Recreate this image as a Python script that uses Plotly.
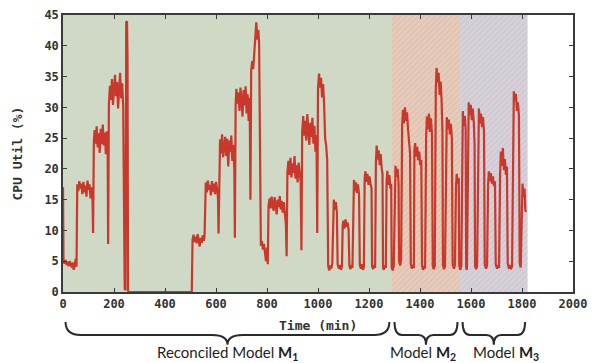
import plotly.graph_objects as go

# ---------------- data ----------------
time_min = [
    0, 2, 6, 10, 14, 18, 22, 26, 30, 34, 38, 42, 46, 50, 53,
    56, 60, 64, 68, 72, 76, 80, 84, 88, 92, 96, 100, 104, 108, 112, 116, 118,
    121, 124, 128, 132, 136, 140, 144, 148, 152, 156, 160, 164, 168, 172, 175, 177,
    180, 184, 188, 192, 196, 200, 204, 208, 212, 216, 220, 224, 228, 232, 236, 239,
    242, 245, 248, 251, 253, 255, 258, 300, 350, 400, 450, 500, 505,
    508, 512, 516, 520, 524, 528, 532, 536, 540, 544, 548, 552, 555,
    557, 560, 564, 568, 572, 576, 580, 584, 588, 592, 596, 600, 604, 608, 610,
    613, 616, 620, 624, 628, 632, 636, 640, 644, 648, 652, 656, 660, 664, 668, 672, 674,
    677, 680, 684, 688, 692, 696, 700, 704, 708, 712, 716, 720, 724, 728, 732, 735,
    738, 742, 746, 750, 754, 758, 762, 766, 769, 771, 773,
    776, 780, 784, 788, 792, 796, 800, 803,
    806, 810, 814, 818, 822, 826, 830, 834, 838, 842, 846, 850, 854, 858, 862, 866, 870, 874, 877,
    880, 884, 888, 892, 896, 900, 904, 908, 912, 916, 920, 924, 928, 932, 935,
    938, 942, 946, 950, 954, 958, 962, 966, 970, 974, 978, 982, 986, 990, 994, 997,
    1000, 1004, 1008, 1012, 1016, 1020, 1024, 1028, 1032, 1036, 1040,
    1044, 1048, 1052, 1056, 1059, 1062, 1066, 1070, 1074, 1077,
    1082, 1086, 1090, 1094, 1097, 1100, 1104, 1108, 1112, 1116, 1120, 1123,
    1127, 1131, 1135, 1138, 1141, 1145, 1149, 1153, 1157, 1161, 1164,
    1168, 1172, 1176, 1180, 1183, 1186, 1190, 1194, 1198, 1202, 1206, 1210, 1212,
    1216, 1220, 1224, 1227, 1230, 1234, 1238, 1242, 1246, 1250, 1253, 1255,
    1258, 1262, 1266, 1269, 1272, 1276, 1280, 1284, 1287, 1289,
    1293, 1297, 1301, 1304, 1308, 1312, 1316, 1318,
    1322, 1326, 1330, 1333, 1337, 1341, 1345, 1349, 1353, 1357, 1361, 1364,
    1368, 1372, 1376, 1378, 1381, 1385, 1389, 1393, 1397, 1401, 1405, 1408,
    1412, 1416, 1420, 1424, 1427, 1431, 1435, 1439, 1443, 1447, 1450,
    1454, 1458, 1462, 1465, 1469, 1473, 1477, 1481, 1485, 1488, 1490,
    1494, 1498, 1502, 1505, 1509, 1513, 1517, 1521, 1525, 1528,
    1533, 1537, 1541, 1544, 1548, 1552, 1554,
    1558, 1562, 1565, 1568, 1572, 1576, 1579, 1581,
    1584, 1588, 1591, 1595, 1599, 1603, 1607, 1611, 1614, 1616,
    1620, 1624, 1628, 1631, 1635, 1639, 1643, 1647, 1651, 1654,
    1659, 1663, 1667, 1670, 1674, 1678, 1682, 1686, 1690, 1694, 1697,
    1702, 1706, 1710, 1714, 1717, 1721, 1725, 1729, 1733, 1737, 1741, 1744,
    1749, 1753, 1757, 1761, 1765, 1768, 1772, 1776, 1780, 1784, 1788, 1791,
    1795, 1799, 1802, 1806, 1810, 1813, 1815,
]
cpu_util = [
    17.0, 5.0, 4.6, 5.2, 4.4, 4.9, 4.2, 5.0, 4.5, 4.0, 4.8, 3.6, 4.3, 5.4, 4.1,
    17.5, 16.4, 18.0, 16.8, 17.6, 15.9, 17.9, 16.2, 17.3, 15.5, 18.1, 16.6, 17.5, 15.2, 17.0, 14.5, 9.6,
    24.5, 26.3, 24.1, 26.9, 23.5, 25.8, 22.6, 26.5, 24.0, 27.2, 23.8, 25.9, 22.4, 26.1, 24.5, 7.8,
    30.5, 33.5, 31.2, 34.6, 30.4, 33.0, 35.3, 31.8, 34.1, 29.8, 33.6, 35.6, 31.5, 33.9, 30.2, 10.2,
    0.5, 0.3, 43.8, 44.0, 38.0, 0.2, 0.0, 0.0, 0.0, 0.0, 0.0, 0.0, 0.0,
    8.5, 9.3, 8.1, 9.0, 7.9, 9.4, 8.4, 7.4, 8.8, 8.0, 9.2, 8.3, 9.0,
    17.0, 17.8, 16.2, 18.1, 16.6, 17.4, 15.7, 18.0, 16.3, 17.6, 15.9, 17.9, 16.8, 15.2, 9.5,
    23.0, 24.8, 22.5, 25.6, 21.9, 24.3, 25.2, 22.1, 24.9, 20.4, 24.6, 22.8, 25.4, 21.3, 23.9, 19.5, 8.8,
    30.5, 33.0, 30.6, 32.4, 29.4, 33.2, 31.0, 28.5, 32.8, 30.3, 33.4, 29.0, 32.1, 27.8, 31.5, 15.0,
    36.0, 37.5, 36.2, 39.0, 41.5, 43.8, 41.0, 42.6, 40.5, 30.0, 8.0,
    7.5, 8.3, 6.9, 7.8, 6.5, 5.0, 7.2, 4.5,
    14.0, 15.2, 13.6, 15.5, 14.0, 13.2, 15.4, 14.3, 12.6, 15.0, 13.8, 15.6, 13.4, 14.8, 12.9, 14.6, 13.1, 11.0, 5.8,
    19.5, 21.3, 19.0, 21.8, 18.6, 20.9, 19.3, 22.1, 18.4, 20.6, 17.8, 21.0, 19.2, 18.0, 6.8,
    26.0, 28.6, 25.4, 27.8, 24.6, 28.9, 26.0, 23.9, 27.5, 25.2, 28.3, 24.1, 27.0, 22.8, 25.5, 9.6,
    33.0, 35.5, 33.2, 34.8, 31.6, 33.8, 30.5, 25.0, 23.8, 21.5, 4.2,
    3.5, 4.3, 3.8, 4.6, 14.0, 15.0, 13.4, 14.6, 13.0, 4.5,
    3.8, 4.4, 3.6, 4.2, 11.0, 11.6, 10.3, 11.8, 10.6, 11.3, 10.1, 4.3,
    3.7, 4.4, 3.9, 17.0, 18.2, 16.4, 17.8, 16.1, 17.5, 15.8, 4.4,
    3.8, 4.5, 3.6, 4.1, 18.5, 19.6, 17.9, 19.2, 17.4, 18.8, 17.6, 16.8, 4.2,
    3.7, 4.4, 3.9, 21.0, 23.8, 21.5, 23.0, 20.6, 22.4, 20.0, 19.2, 4.0,
    3.6, 4.3, 3.9, 18.0, 19.7, 17.4, 19.0, 16.8, 17.6, 4.0,
    3.5, 4.2, 18.0, 20.5, 18.7, 20.0, 17.5, 5.0,
    4.3, 5.2, 27.0, 29.6, 27.4, 30.0, 27.8, 29.2, 26.5, 24.0, 22.5, 4.5,
    3.8, 4.4, 3.9, 23.0, 24.2, 22.0, 23.6, 21.4, 22.8, 20.6, 21.5, 4.3,
    3.6, 4.2, 3.8, 25.0, 28.5, 26.4, 29.0, 26.0, 28.2, 25.6, 4.2,
    3.7, 4.3, 33.0, 36.4, 34.0, 35.6, 32.0, 34.2, 30.8, 26.0, 4.4,
    3.7, 4.2, 27.0, 28.4, 26.5, 28.0, 25.6, 27.3, 25.0, 4.5,
    3.8, 4.4, 17.0, 19.2, 17.6, 18.5, 4.3,
    3.6, 4.2, 27.0, 29.4, 27.0, 28.6, 26.5, 4.0,
    3.6, 28.0, 30.8, 28.7, 30.4, 27.9, 29.8, 27.5, 24.0, 4.2,
    3.7, 4.3, 27.0, 29.8, 27.4, 29.0, 26.8, 28.4, 26.0, 4.4,
    3.8, 4.3, 17.5, 19.6, 18.0, 19.3, 17.6, 18.8, 17.2, 18.0, 4.5,
    3.8, 4.4, 3.9, 19.0, 22.8, 20.5, 23.4, 19.8, 21.6, 19.0, 20.4, 4.6,
    3.8, 4.4, 3.7, 4.2, 30.0, 32.6, 31.0, 32.2, 29.4, 30.8, 28.6, 4.6,
    4.0, 14.0, 17.6, 15.4, 16.8, 13.5, 13.0,
]

region_start = [0, 1290, 1557]
region_end = [1290, 1557, 1822]
region_labels = ["Reconciled Model <b>M<sub>1</sub></b>",
                 "Model <b>M<sub>2</sub></b>",
                 "Model <b>M<sub>3</sub></b>"]
region_colors = ["#d0d8c6", "#e7ccbb", "#d7d1da"]
region_patterns = ["", "/", "/"]
region_pattern_fg = ["#d0d8c6", "#d6b39f", "#c4bcc8"]

x_ticks = [0, 200, 400, 600, 800, 1000, 1200, 1400, 1600, 1800, 2000]
y_ticks = [0, 5, 10, 15, 20, 25, 30, 35, 40, 45]

fig = go.Figure()

# shaded regions as bars spanning the full y range
for s, e, c, p, fg in zip(region_start, region_end, region_colors, region_patterns, region_pattern_fg):
    fig.add_trace(go.Bar(
        x=[(s + e) / 2], y=[45], width=[e - s], base=[0],
        marker=dict(color=c, line=dict(width=0),
                    pattern=dict(shape=p, fgcolor=fg, bgcolor=c, size=4, solidity=0.35)),
        showlegend=False, hoverinfo="skip"))

fig.add_trace(go.Scatter(
    x=time_min, y=cpu_util, mode="lines",
    line=dict(color="#c8392b", width=2.2),
    showlegend=False))

tick_font = dict(family="DejaVu Sans Mono", size=12, color="#333333", weight="bold")
axis_common = dict(showline=True, linecolor="#3a3a3a", linewidth=1.5, mirror="ticks",
                   ticks="inside", ticklen=4, tickwidth=1, tickcolor="#3a3a3a",
                   showgrid=False, zeroline=False, tickfont=tick_font, automargin=False)

fig.update_layout(
    width=592, height=363,
    margin=dict(l=63, r=19, t=15, b=71),
    paper_bgcolor="white", plot_bgcolor="white",
    barmode="overlay",
    xaxis=dict(range=[0, 2000], tickvals=x_ticks, **axis_common),
    yaxis=dict(range=[0, 45], tickvals=y_ticks, **axis_common),
)

# axis titles
fig.add_annotation(text="Time (min)", x=0.5, y=-0.12, xref="paper", yref="paper",
                   xanchor="center", yanchor="middle", showarrow=False,
                   font=dict(family="DejaVu Sans Mono", size=13, color="#333333", weight="bold"))
fig.add_annotation(text="CPU Util (%)", x=-0.09, y=0.5, xref="paper", yref="paper",
                   xanchor="center", yanchor="middle", textangle=-90, showarrow=False,
                   font=dict(family="DejaVu Sans Mono", size=13, color="#333333", weight="bold"))

# curly braces below the axis, one per region
inset = 10
label_shift = [0, -3, 12]
y_top, y_mid, y_tip = -0.108, -0.155, -0.19
for s, e, lab, sh in zip(region_start, region_end, region_labels, label_shift):
    x0, x1 = s + inset, e - inset
    xm = (x0 + x1) / 2
    d = min(60, (x1 - x0) * 0.12)
    path = (f"M {x0},{y_top} Q {x0},{y_mid} {x0 + d},{y_mid} "
            f"L {xm - d},{y_mid} Q {xm},{y_mid} {xm},{y_tip} "
            f"Q {xm},{y_mid} {xm + d},{y_mid} L {x1 - d},{y_mid} "
            f"Q {x1},{y_mid} {x1},{y_top}")
    fig.add_shape(type="path", path=path, xref="x", yref="paper",
                  line=dict(color="#2a2a2a", width=2))
    fig.add_annotation(text=lab, x=xm, y=-0.222, xref="x", yref="paper", xshift=sh,
                       xanchor="center", yanchor="middle", showarrow=False,
                       font=dict(family="Lato", size=15, color="#1e1e1e"))

fig.write_html("out.html", config={"displayModeBar": False},
               post_script="document.body.style.margin='0';")
